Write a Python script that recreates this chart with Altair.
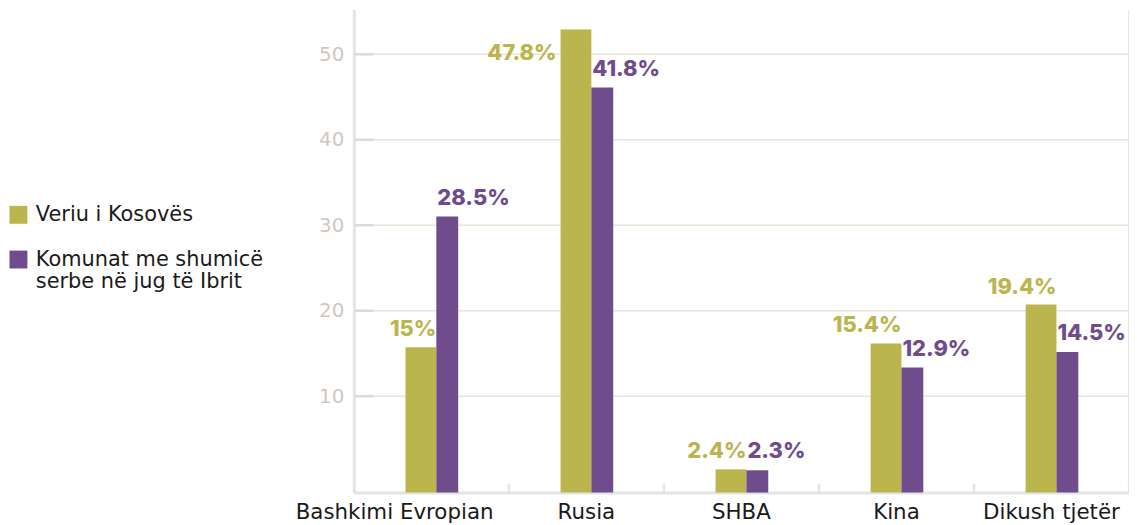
import altair as alt
import pandas as pd

# ---- data ----
categories = ["Bashkimi Evropian", "Rusia", "SHBA", "Kina", "Dikush tjetër"]
series = ["Veriu i Kosovës", "Komunat me shumicë\nserbe në jug të Ibrit"]
north = [15.0, 47.8, 2.4, 15.4, 19.4]
south = [28.5, 41.8, 2.3, 12.9, 14.5]
north_labels = ["15%", "47.8%", "2.4%", "15.4%", "19.4%"]
south_labels = ["28.5%", "41.8%", "2.3%", "12.9%", "14.5%"]
tick_values = [10, 20, 30, 40, 50]

GREEN = "#BBB54E"
PURPLE = "#6F4C8C"
FONT = "DejaVu Sans"
BOLD_FONT = "Inter"

rows = []
for c, v, l in zip(categories, north, north_labels):
    rows.append({"cat": c, "series": series[0], "value": v, "label": l})
for c, v, l in zip(categories, south, south_labels):
    rows.append({"cat": c, "series": series[1], "value": v, "label": l})
df = pd.DataFrame(rows)
ticks_df = pd.DataFrame({"t": tick_values})
cats_df = pd.DataFrame({"cat": categories})

W, H = 780, 486

x_axis = alt.Axis(
    title=None, labelAngle=0, labelFontSize=21.5, labelFont=FONT, labelColor="#1a1a1a",
    labelPadding=9, labelLimit=400, labelOverlap=False, ticks=False, tickSize=0,
    domain=True, domainColor="#e4e4e4", domainWidth=3, grid=False,
    labelOffset={"condition": {"test": "datum.value === 'Bashkimi Evropian'", "value": -37}, "value": 0},
)
x_enc = alt.X("cat:N", sort=categories, scale=alt.Scale(paddingInner=0, paddingOuter=0), axis=x_axis)

y_bar = alt.Y("value:Q", scale=alt.Scale(domain=[0, 49.85], nice=False, zero=True), axis=None)

color_enc = alt.Color(
    "series:N",
    scale=alt.Scale(domain=series, range=[GREEN, PURPLE]),
    legend=alt.Legend(
        title=None, orient="none", legendX=-348, legendY=196, padding=0,
        symbolType="square", symbolSize=324, symbolStrokeWidth=0, symbolOpacity=1,
        labelFontSize=21, labelFont=FONT, labelColor="#1a1a1a", labelOffset=7,
        labelLimit=400, rowPadding=23, labelBaseline="middle",
        labelExpr="split(datum.label, '\\n')",
    ),
)

base = alt.Chart(df)

bars_n = base.transform_filter(alt.datum.series == series[0]).mark_bar(width=31, xOffset=-10.5).encode(
    x=x_enc, y=y_bar, color=color_enc)
bars_s = base.transform_filter(alt.datum.series == series[1]).mark_bar(width=22, xOffset=16).encode(
    x=x_enc, y=y_bar, color=color_enc)

txt_style = dict(fontSize=22, font=BOLD_FONT, fontWeight=800, baseline="middle")
lab_n = base.transform_filter((alt.datum.series == series[0]) & (alt.datum.value < 45)).mark_text(
    align="right", dx=5, dy=-18, color=GREEN, **txt_style).encode(x=x_enc, y=y_bar, text="label:N")
lab_n_top = base.transform_filter((alt.datum.series == series[0]) & (alt.datum.value >= 45)).mark_text(
    align="right", dx=-30, dy=24, color=GREEN, **txt_style).encode(x=x_enc, y=y_bar, text="label:N")
lab_s = base.transform_filter(alt.datum.series == series[1]).mark_text(
    align="left", dx=6, dy=-19, color=PURPLE, **txt_style).encode(x=x_enc, y=y_bar, text="label:N")

y_axis_scale = alt.Scale(domain=[-1.279, 55.233], nice=False, zero=False)
y_axis = alt.Axis(
    title=None, values=tick_values, grid=False, ticks=False, tickSize=0, labelFontSize=20, labelFont=FONT,
    labelColor="#cfc8c0", labelPadding=10, domain=True, domainColor="#e4e4e4", domainWidth=3,
)
grid = alt.Chart(ticks_df).mark_rule(color="#ece5d9", strokeWidth=1.5).encode(
    y=alt.Y("t:Q", scale=y_axis_scale, axis=y_axis), x=alt.value(20), x2=alt.value(W))
dashes = alt.Chart(ticks_df).mark_rule(color="#dcd8d3", strokeWidth=2.5).encode(
    y=alt.Y("t:Q", scale=y_axis_scale, axis=y_axis), x=alt.value(1), x2=alt.value(20))

xticks = alt.Chart(cats_df).mark_rule(color="#e4e4e4", strokeWidth=2.5).encode(
    x=alt.X("cat:N", sort=categories, bandPosition=1, scale=alt.Scale(paddingInner=0, paddingOuter=0), axis=x_axis),
    y=alt.value(H - 9), y2=alt.value(H))

chart = alt.layer(
    grid, dashes, xticks, bars_n, bars_s, lab_n, lab_n_top, lab_s
).resolve_scale(y="independent").properties(
    width=W, height=H,
    autosize=alt.AutoSizeParams(type="none"),
    padding={"left": 348, "top": 0, "right": 0, "bottom": 30},
).configure_view(stroke=None)

chart.save("out.html", embed_options={"renderer": "svg", "actions": False})
